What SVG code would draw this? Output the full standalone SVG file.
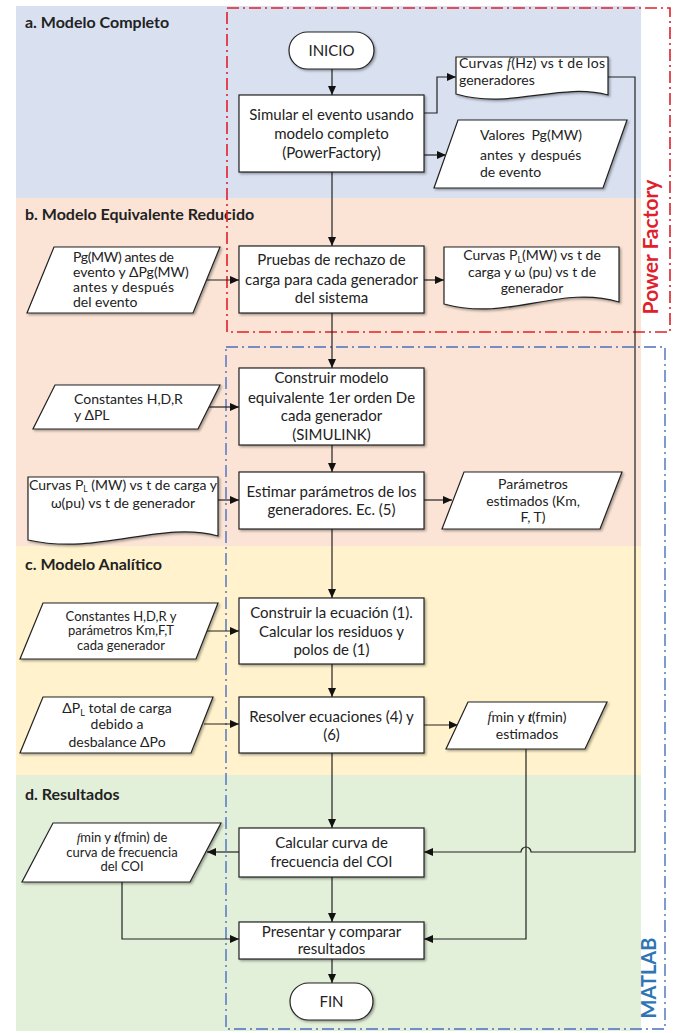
<svg xmlns="http://www.w3.org/2000/svg" width="675" height="1033" viewBox="0 0 675 1033">
<defs>
<marker id="ah" markerWidth="9" markerHeight="8" refX="9" refY="4" orient="auto" markerUnits="userSpaceOnUse"><path d="M0,0 L9,4 L0,8 Z" fill="#111"/></marker>
<filter id="sh" x="-5%" y="-5%" width="115%" height="120%"><feDropShadow dx="1.5" dy="1.5" stdDeviation="0.8" flood-color="#000" flood-opacity="0.35"/></filter>
<style>
.shape{fill:#fff;stroke:#222;stroke-width:1.2;filter:url(#sh)}
.t{font-family:Lato,"Liberation Sans",sans-serif;font-size:15px;fill:#222;text-anchor:middle}
.s{font-family:Lato,"Liberation Sans",sans-serif;font-size:14px;fill:#222}
.xs{font-family:Lato,"Liberation Sans",sans-serif;font-size:13px;fill:#222;text-anchor:middle}
.h{font-family:Lato,"Liberation Sans",sans-serif;font-size:16px;font-weight:bold;fill:#222}
.c{fill:none;stroke:#222;stroke-width:1.2}
.ca{fill:none;stroke:#222;stroke-width:1.2;marker-end:url(#ah)}
.fi{font-family:"Liberation Serif",serif;font-style:italic}
.tb{font-family:"Liberation Serif",serif;font-style:italic;font-weight:bold}
</style>
</defs>
<rect width="675" height="1033" fill="#fff"/>
<g id="bands">
<rect x="16" y="6" width="625" height="192" fill="#D9E1F1"/>
<rect x="16" y="198" width="625" height="348" fill="#FBE4D5"/>
<rect x="16" y="546" width="625" height="229" fill="#FFF2CC"/>
<rect x="16" y="775" width="625" height="256" fill="#E2EFD9"/>
<text class="h" x="25" y="28">a. Modelo Completo</text>
<text class="h" x="25" y="220">b. Modelo Equivalente Reducido</text>
<text class="h" x="25" y="570">c. Modelo Analítico</text>
<text class="h" x="25" y="800">d. Resultados</text>
</g>
<g id="regions">
<rect x="227" y="8" width="443" height="324" fill="none" stroke="#E0202A" stroke-width="1.6" stroke-dasharray="12,4,2,4"/>
<rect x="226" y="347" width="439" height="682" fill="none" stroke="#4A70C0" stroke-width="1.4" stroke-dasharray="12,4,2,4"/>
<text x="658" y="247" transform="rotate(-90 658 247)" text-anchor="middle" font-family="Lato,'Liberation Sans',sans-serif" font-size="21" font-weight="bold" fill="#E0202A">Power Factory</text>
<text x="656" y="978" transform="rotate(-90 656 978)" text-anchor="middle" font-family="Lato,'Liberation Sans',sans-serif" font-size="20" font-weight="bold" fill="#2E75B6">MATLAB</text>
</g>
<g id="connectors">
<path class="ca" d="M332,69 V95"/>
<path class="ca" d="M332,172 V246"/>
<path class="ca" d="M332,313 V368"/>
<path class="ca" d="M332,445 V472"/>
<path class="ca" d="M332,529 V598"/>
<path class="ca" d="M332,664 V697"/>
<path class="ca" d="M332,753 V828"/>
<path class="ca" d="M332,877 V922"/>
<path class="ca" d="M332,959 V983"/>
<path class="ca" d="M424,113 H437 V77 H456"/>
<path class="ca" d="M424,155 H446"/>
<path class="ca" d="M424,280 H444"/>
<path class="ca" d="M206,280 H239"/>
<path class="ca" d="M208,407 H239"/>
<path class="ca" d="M218,500 H239"/>
<path class="ca" d="M424,500 H452"/>
<path class="ca" d="M206,631 H239"/>
<path class="ca" d="M204,724 H239"/>
<path class="ca" d="M424,725 H458"/>
<path class="ca" d="M608,77 H635 V852 H531 A5,5 0 0 0 521,852 H424"/>
<path class="ca" d="M526,749 V939 H424"/>
<path class="ca" d="M239,852 H207"/>
<path class="ca" d="M122,882 V939 H239"/>
</g>
<g id="inicio">
<rect class="shape" x="289" y="32" width="85" height="37" rx="18.5"/>
<text class="t" x="331.5" y="56">INICIO</text>
</g>
<g id="simular">
<rect class="shape" x="239" y="95" width="185" height="77"/>
<text class="t" x="331.5" y="120">Simular el evento usando</text>
<text class="t" x="331.5" y="139">modelo completo</text>
<text class="t" x="331.5" y="158">(PowerFactory)</text>
</g>
<g id="curvas-fhz">
<path class="shape" d="M456,57 H608 V95 C560,82 510,110 456,94 Z"/>
<text class="s" x="459" y="68" textLength="146" lengthAdjust="spacing">Curvas <tspan class="fi">f</tspan>(Hz) vs t de los</text>
<text class="s" x="459" y="85">generadores</text>
</g>
<g id="valores">
<path class="shape" d="M458,120 H627 L603,188 H434 Z"/>
<text class="s" x="480" y="140" word-spacing="3">Valores Pg(MW)</text>
<text class="s" x="480" y="160" word-spacing="2">antes y después</text>
<text class="s" x="480" y="177">de evento</text>
</g>
<g id="pg-antes">
<path class="shape" d="M54,247 H220 L193,313 H27 Z"/>
<text class="s" x="73" y="262" font-size="13.5" textLength="101" lengthAdjust="spacing">Pg(MW) antes de</text>
<text class="s" x="73" y="277" font-size="13.5">evento y ΔPg(MW)</text>
<text class="s" x="73" y="292" font-size="13.5" textLength="101" lengthAdjust="spacing">antes y después</text>
<text class="s" x="73" y="307" font-size="13.5">del evento</text>
</g>
<g id="pruebas">
<rect class="shape" x="239" y="246" width="185" height="67"/>
<text class="t" x="331.5" y="265">Pruebas de rechazo de</text>
<text class="t" x="331.5" y="285">carga para cada generador</text>
<text class="t" x="331.5" y="303">del sistema</text>
</g>
<g id="curvas-pl">
<path class="shape" d="M444,247 H619 V302 C560,284 510,322 444,304 Z"/>
<text class="s" x="532" y="260" text-anchor="middle">Curvas P<tspan font-size="9" dy="3">L</tspan><tspan dy="-3">(MW)  vs t de</tspan></text>
<text class="s" x="532" y="277" text-anchor="middle">carga y ω (pu) vs t de</text>
<text class="s" x="532" y="293" text-anchor="middle">generador</text>
</g>
<g id="constantes-hdr">
<path class="shape" d="M55,385 H220 L198,429 H33 Z"/>
<text class="s" x="74" y="404">Constantes H,D,R</text>
<text class="s" x="74" y="420">y ΔPL</text>
</g>
<g id="construir-modelo">
<rect class="shape" x="239" y="368" width="185" height="77"/>
<text class="t" x="331.5" y="383">Construir modelo</text>
<text class="t" x="331.5" y="403">equivalente 1er orden De</text>
<text class="t" x="331.5" y="421">cada generador</text>
<text class="t" x="331.5" y="440">(SIMULINK)</text>
</g>
<g id="curvas-pl-izq">
<path class="shape" d="M28,477 H218 V536 C160,520 100,556 28,540 Z"/>
<text class="s" x="123" y="490" font-size="13.2" text-anchor="middle">Curvas P<tspan font-size="8.5" dy="2">L</tspan><tspan dy="-2"> (MW) vs t de carga y</tspan></text>
<text class="s" x="123" y="508" font-size="13.2" text-anchor="middle">ω(pu) vs t de generador</text>
</g>
<g id="estimar">
<rect class="shape" x="239" y="472" width="185" height="57"/>
<text class="t" x="331.5" y="497">Estimar parámetros de los</text>
<text class="t" x="331.5" y="515">generadores. Ec. (5)</text>
</g>
<g id="parametros">
<path class="shape" d="M464,472 H622 L600,529 H442 Z"/>
<text class="s" x="533" y="489" text-anchor="middle">Parámetros</text>
<text class="s" x="533" y="506" text-anchor="middle">estimados (Km,</text>
<text class="s" x="533" y="522" text-anchor="middle">F, T)</text>
</g>
<g id="constantes-km">
<path class="shape" d="M43,603 H218 L196,659 H20 Z"/>
<text class="xs" x="121" y="621">Constantes H,D,R y</text>
<text class="xs" x="121" y="635">parámetros Km,F,T</text>
<text class="xs" x="121" y="650">cada generador</text>
</g>
<g id="construir-ecuacion">
<rect class="shape" x="239" y="598" width="185" height="66"/>
<text class="t" x="331.5" y="618">Construir la ecuación (1).</text>
<text class="t" x="331.5" y="637">Calcular los residuos y</text>
<text class="t" x="331.5" y="655">polos de (1)</text>
</g>
<g id="delta-pl">
<path class="shape" d="M43,697 H213 L191,753 H20 Z"/>
<text class="s" x="117" y="713" text-anchor="middle">ΔP<tspan font-size="9" dy="3">L</tspan><tspan dy="-3"> total de carga</tspan></text>
<text class="s" x="117" y="729" text-anchor="middle">debido a</text>
<text class="s" x="117" y="747" text-anchor="middle">desbalance ΔPo</text>
</g>
<g id="resolver">
<rect class="shape" x="239" y="697" width="185" height="56"/>
<text class="t" x="331.5" y="722">Resolver ecuaciones (4) y</text>
<text class="t" x="331.5" y="740">(6)</text>
</g>
<g id="fmin-estimados">
<path class="shape" d="M468,702 H607 L585,749 H446 Z"/>
<text class="s" x="527" y="722" text-anchor="middle"><tspan class="fi">f</tspan>min y <tspan class="tb">t</tspan>(fmin)</text>
<text class="s" x="527" y="739" text-anchor="middle">estimados</text>
</g>
<g id="fmin-coi">
<path class="shape" d="M53,823 H221 L190,882 H22 Z"/>
<text class="xs" x="122" y="842"><tspan class="fi">f</tspan>min y <tspan class="tb">t</tspan>(fmin) de</text>
<text class="xs" x="122" y="857">curva de frecuencia</text>
<text class="xs" x="122" y="871">del COI</text>
</g>
<g id="calcular">
<rect class="shape" x="239" y="828" width="185" height="49"/>
<text class="t" x="331.5" y="848">Calcular curva de</text>
<text class="t" x="331.5" y="867">frecuencia del COI</text>
</g>
<g id="presentar">
<rect class="shape" x="239" y="922" width="185" height="37"/>
<text class="t" x="331.5" y="937">Presentar y comparar</text>
<text class="t" x="331.5" y="954">resultados</text>
</g>
<g id="fin">
<rect class="shape" x="290" y="983" width="83" height="37" rx="18.5"/>
<text class="t" x="331.5" y="1007">FIN</text>
</g>
</svg>
